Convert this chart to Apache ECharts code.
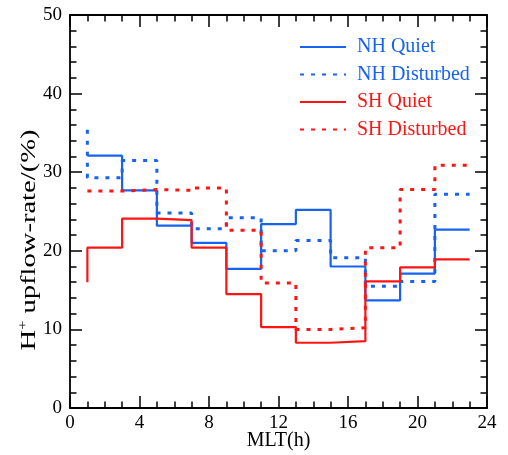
<!DOCTYPE html>
<html>
<head>
<meta charset="utf-8">
<script src="https://cdn.jsdelivr.net/npm/echarts@6/dist/echarts.min.js"></script>
<style>
  html, body { margin: 0; padding: 0; background: #fff; }
  #main { width: 508px; height: 455px; }
</style>
</head>
<body>
<div id="main"></div>
<script>
// MLT bin edges, first value is the stub at x=1
var mlt = [1, 3, 5, 7, 9, 11, 13, 15, 17, 19, 21, 23];
var nhQuiet = [32.1, 32.1, 27.7, 23.2, 21.0, 17.7, 23.4, 25.2, 18.0, 13.7, 17.1, 22.7];
var nhDisturbed = [35.4, 29.3, 31.5, 24.8, 22.8, 24.2, 20.0, 21.3, 19.1, 15.5, 16.1, 27.2];
var shQuiet = [16.0, 20.4, 24.1, 23.9, 20.4, 14.5, 10.3, 8.3, 8.5, 16.1, 17.9, 18.9];
var shDisturbed = [27.6, 27.6, 27.8, 27.7, 28.0, 22.6, 15.9, 10.0, 10.2, 20.4, 27.8, 30.9];
var xTicks = [0, 4, 8, 12, 16, 20, 24];
var yTicks = [0, 10, 20, 30, 40, 50];

var blue = '#1763f0';
var red = '#ff1414';
var font = '"Liberation Serif", "Times New Roman", serif';

function pairs(vals) {
	return mlt.map(function(x, i) { return [x, vals[i]]; });
}

function stepSeries(name, vals, color, dotted) {
	return {
		name: name,
		type: 'line',
		step: 'start',
		showSymbol: false,
		symbol: 'none',
		silent: true,
		data: pairs(vals),
		lineStyle: {
			color: color,
			width: dotted ? 3 : 2.2,
			type: dotted ? [4, 7] : 'solid'
		},
		itemStyle: { color: color }
	};
}

var axisLine = { show: true, onZero: false, lineStyle: { color: '#000', width: 1.8 } };
var tick = { show: true, inside: true, length: 12, lineStyle: { color: '#000', width: 1.5 } };
var minor = { show: true, length: 6.5, lineStyle: { color: '#000', width: 1.5 } };
var label = { color: '#000', fontFamily: font, fontSize: 19 };

var chart = echarts.init(document.getElementById('main'));
chart.setOption({
	animation: false,
	grid: { left: 70, right: 21, top: 15, bottom: 47, outerBoundsMode: 'none', containLabel: false },
	legend: {
		orient: 'vertical',
		left: 299,
		top: 37,
		padding: 0,
		itemWidth: 46,
		itemHeight: 14,
		itemGap: 7.5,
		itemStyle: { opacity: 0 },
		textStyle: { fontFamily: font, fontSize: 20, padding: [0, 0, 0, 6] },
		data: [
			{ name: 'NH Quiet', textStyle: { color: blue } },
			{ name: 'NH Disturbed', textStyle: { color: blue } },
			{ name: 'SH Quiet', textStyle: { color: red } },
			{ name: 'SH Disturbed', textStyle: { color: red } }
		],
		selectedMode: false
	},
	graphic: [{
		type: 'text',
		x: 29,
		y: 240,
		rotation: Math.PI / 2,
		scaleX: 1.36,
		style: {
			text: '{a|H}{s|+}{a| upflow-rate/(%)}',
			align: 'center',
			verticalAlign: 'middle',
			rich: {
				a: { fontFamily: font, fontSize: 21, fill: '#000' },
				s: { fontFamily: font, fontSize: 12, fill: '#000', padding: [0, 0, 11, 0] }
			}
		},
		silent: true
	}],
	xAxis: [{
		type: 'value',
		min: xTicks[0],
		max: xTicks[xTicks.length - 1],
		interval: 4,
		name: 'MLT(h)',
		nameLocation: 'middle',
		nameGap: 23,
		nameMoveOverlap: false,
		nameTextStyle: { color: '#000', fontFamily: font, fontSize: 20 },
		axisLine: axisLine,
		axisTick: tick,
		minorTick: Object.assign({ splitNumber: 4 }, minor),
		axisLabel: Object.assign({ margin: 6 }, label),
		splitLine: { show: false }
	}, {
		type: 'value',
		position: 'top',
		min: 0, max: 24, interval: 4,
		axisLine: axisLine,
		axisTick: tick,
		minorTick: Object.assign({ splitNumber: 4 }, minor),
		axisLabel: { show: false },
		splitLine: { show: false }
	}],
	yAxis: [{
		type: 'value',
		min: yTicks[0],
		max: yTicks[yTicks.length - 1],
		interval: 10,
		axisLine: axisLine,
		axisTick: tick,
		minorTick: Object.assign({ splitNumber: 5 }, minor),
		axisLabel: Object.assign({ margin: 8 }, label),
		splitLine: { show: false }
	}, {
		type: 'value',
		position: 'right',
		min: 0, max: 50, interval: 10,
		axisLine: axisLine,
		axisTick: tick,
		minorTick: Object.assign({ splitNumber: 5 }, minor),
		axisLabel: { show: false },
		splitLine: { show: false }
	}],
	series: [
		stepSeries('NH Quiet', nhQuiet, blue, false),
		stepSeries('NH Disturbed', nhDisturbed, blue, true),
		stepSeries('SH Quiet', shQuiet, red, false),
		stepSeries('SH Disturbed', shDisturbed, red, true)
	]
});
</script>
</body>
</html>
